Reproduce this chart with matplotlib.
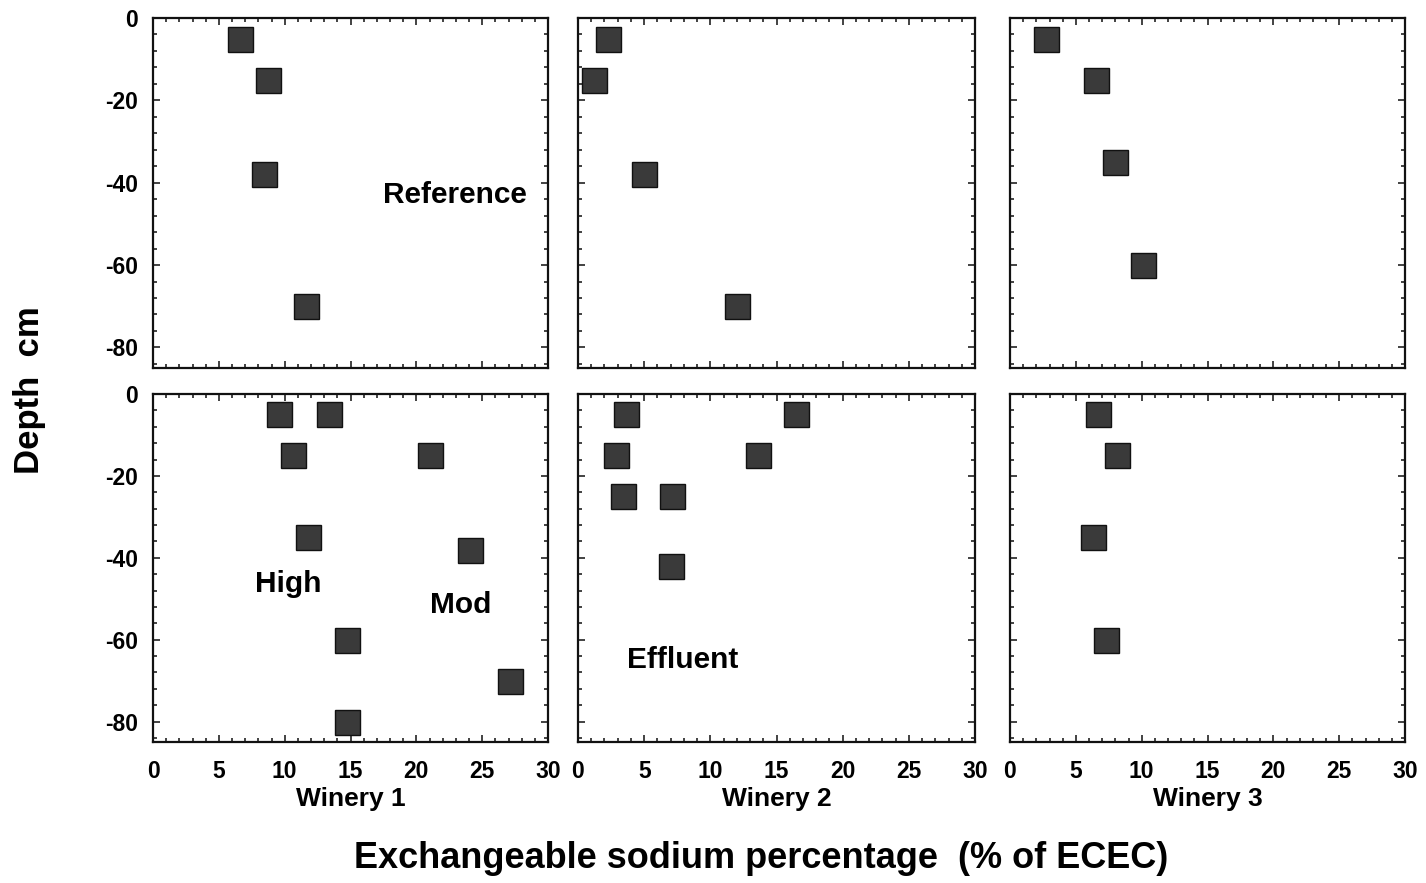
import matplotlib
matplotlib.use("Agg")
import matplotlib.pyplot as plt
from matplotlib.ticker import MultipleLocator

plt.rcParams['font.family'] = ['Liberation Sans', 'DejaVu Sans']
plt.rcParams['font.weight'] = 'bold'

wineries = ["Winery 1", "Winery 2", "Winery 3"]

# Reference (top row) ESP values and depths
ref_x = [
    [6.6, 8.7, 8.4, 11.6],
    [2.3, 1.2, 5.0, 12.0],
    [2.7, 6.5, 8.0, 10.1],
]
ref_y = [
    [-5, -15, -38, -70],
    [-5, -15, -38, -70],
    [-5, -15, -35, -60],
]

# Effluent-affected (bottom row)
eff_x = [
    [9.6, 13.4, 10.6, 21.0, 11.8, 24.1, 14.7, 27.1, 14.7],
    [3.6, 16.5, 2.9, 13.6, 3.4, 7.1, 7.0],
    [6.7, 8.1, 6.3, 7.3],
]
eff_y = [
    [-5, -5, -15, -15, -35, -38, -60, -70, -80],
    [-5, -5, -15, -15, -25, -25, -42],
    [-5, -15, -35, -60],
]

fig = plt.figure(figsize=(14.26, 8.83), dpi=100)

lefts = [153, 578, 1010]
widths = [395, 397, 395]
W, H = 1426, 883
rows = [(18, 368), (394, 742)]

axes = []
for r, (top, bot) in enumerate(rows):
    for c in range(3):
        ax = fig.add_axes([lefts[c] / W, 1 - bot / H, widths[c] / W, (bot - top) / H])
        axes.append((r, c, ax))

for r, c, ax in axes:
    xs = ref_x[c] if r == 0 else eff_x[c]
    ys = ref_y[c] if r == 0 else eff_y[c]
    ax.plot(xs, ys, 's', ms=18, mfc='#3a3a3a', mec='#111111', mew=1.0, ls='none')
    ax.set_xlim(0, 30)
    ax.set_ylim(-85, 0)
    ax.xaxis.set_major_locator(MultipleLocator(5))
    ax.xaxis.set_minor_locator(MultipleLocator(1))
    ax.yaxis.set_major_locator(MultipleLocator(20))
    ax.yaxis.set_minor_locator(MultipleLocator(4))
    ax.tick_params(which='both', direction='in', top=True, right=True, width=1.2, color='#222222')
    ax.tick_params(which='major', length=5, labelsize=16.5)
    ax.tick_params(which='minor', length=3)
    ax.tick_params(axis='x', which='major', pad=13)
    ax.tick_params(axis='y', which='major', pad=11)
    for s in ax.spines.values():
        s.set_linewidth(1.6)
        s.set_color('#111111')
    if c != 0:
        ax.set_yticklabels([])
    else:
        ax.set_yticks([0, -20, -40, -60, -80])
        ax.set_yticklabels(['0', '-20', '-40', '-60', '-80'], fontweight='bold')
    if r == 0:
        ax.set_xticklabels([])
    else:
        ax.set_xticks([0, 5, 10, 15, 20, 25, 30])
        ax.set_xticklabels(['0', '5', '10', '15', '20', '25', '30'], fontweight='bold')
        ax.set_xlabel(wineries[c], fontsize=19, fontweight='bold', labelpad=3)

ax_tl = axes[0][2]
ax_tl.text(22.9, -43, "Reference", fontsize=21.5, fontweight='bold', ha='center', va='center')
ax_bl = axes[3][2]
ax_bl.text(10.3, -46.3, "High", fontsize=21.5, fontweight='bold', ha='center', va='center')
ax_bl.text(23.4, -51.5, "Mod", fontsize=21.5, fontweight='bold', ha='center', va='center')
ax_bm = axes[4][2]
ax_bm.text(7.9, -65, "Effluent", fontsize=21.5, fontweight='bold', ha='center', va='center')

fig.text(761 / W, 1 - 858 / H, "Exchangeable sodium percentage  (% of ECEC)",
         fontsize=26, fontweight='bold', ha='center', va='center')
fig.text(30 / W, 1 - 390 / H, "Depth  cm", fontsize=25, fontweight='bold',
         rotation=90, ha='center', va='center')

fig.savefig("out.png", dpi=100)
